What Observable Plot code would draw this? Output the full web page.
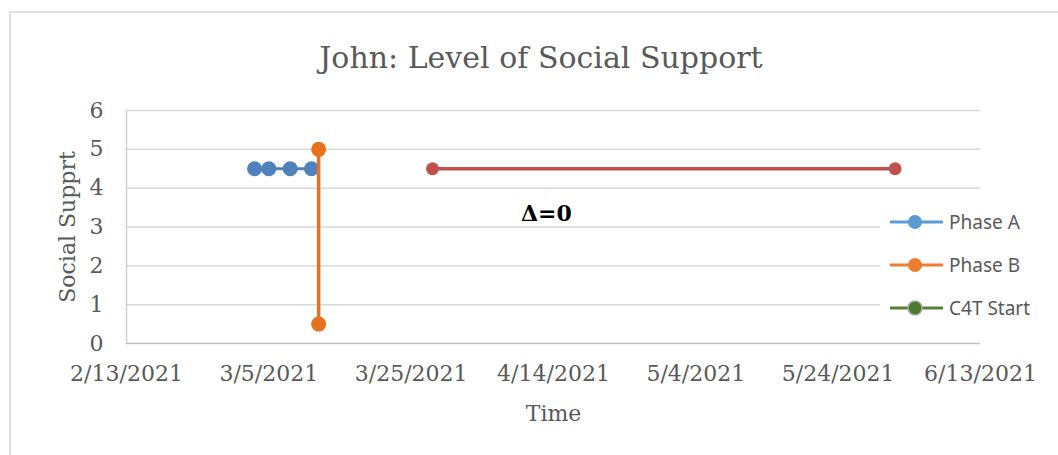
<!DOCTYPE html>
<html><head><meta charset="utf-8">
<script src="https://cdn.jsdelivr.net/npm/d3@7"></script>
<script src="https://cdn.jsdelivr.net/npm/@observablehq/plot@0.6"></script>
<style>
body{margin:0;background:#fff;}
#wrap{position:relative;width:1058px;height:455px;overflow:hidden;font-family:"DejaVu Serif",serif;background:#fff;}
#frame{position:absolute;left:9px;top:11px;width:1100px;height:500px;border:2px solid #e0e0e0;box-sizing:border-box;}
#title{position:absolute;left:0;width:1082px;top:43px;line-height:30px;text-align:center;font-size:30px;color:#595959;}
#chart{position:absolute;left:0;top:90px;}
#legend{position:absolute;left:880px;top:200px;}
</style>
</head><body>
<div id="wrap">
  <div id="frame"></div>
  <div id="title">John: Level of Social Support</div>
  <div id="chart"></div>
  <div id="legend"></div>
</div>
<script>
// ---- data ----
const tickDates = ["2021-02-13","2021-03-05","2021-03-25","2021-04-14","2021-05-04","2021-05-24","2021-06-13"];
const yTicks = [0,1,2,3,4,5,6];
const phaseADates = ["2021-03-03","2021-03-05","2021-03-08","2021-03-11"];
const phaseAValues = [4.5,4.5,4.5,4.5];
const phaseBDates = ["2021-03-12","2021-03-12"];
const phaseBValues = [5,0.5];
const phaseCDates = ["2021-03-28","2021-06-01"];
const phaseCValues = [4.5,4.5];
const legendNames = ["Phase A","Phase B","C4T Start"];
const annotationText = "Δ=0";
const annotationDate = "2021-04-13";
const annotationValue = 3.33;

const parse = d3.utcParse("%Y-%m-%d");
const ticks = tickDates.map(parse);
const rows = (ds, vs) => ds.map((d,i)=>({date:parse(d), value:vs[i]}));
const A = rows(phaseADates, phaseAValues);
const B = rows(phaseBDates, phaseBValues);
const C = rows(phaseCDates, phaseCValues);
const fmt = d => `${d.getUTCMonth()+1}/${d.getUTCDate()}/${d.getUTCFullYear()}`;

const blue = "#4f81bd", orange = "#e8711d", red = "#c0504d";

const plot = Plot.plot({
  width: 1058,
  height: 365,
  marginLeft: 126,
  marginRight: 78,
  marginTop: 20,
  marginBottom: 112,
  style: {fontFamily: "DejaVu Serif", fontSize: "22px", color: "#595959", background: "transparent"},
  x: {type: "utc", domain: [ticks[0], ticks[ticks.length-1]]},
  y: {domain: [0, 6]},
  marks: [
    Plot.ruleY(yTicks.slice(1), {stroke: "#d9d9d9", strokeWidth: 1.5}),
    Plot.ruleY([0], {stroke: "#bfbfbf", strokeWidth: 1.5}),
    Plot.ruleX([ticks[0]], {stroke: "#d0d0d0", strokeWidth: 1.5}),
    Plot.axisX({ticks: ticks, tickFormat: fmt, tickSize: 0, tickPadding: 22, label: "Time", labelAnchor: "center", labelOffset: 77, labelArrow: "none", fill: "#595959"}),
    Plot.axisY({ticks: yTicks, tickFormat: d => String(d), tickSize: 0, tickPadding: 23, label: "Social Supprt", labelAnchor: "center", labelOffset: 67, labelArrow: "none", fill: "#595959"}),
    Plot.line(A, {x: "date", y: "value", stroke: blue, strokeWidth: 3}),
    Plot.dot(A, {x: "date", y: "value", fill: blue, r: 7.5}),
    Plot.line(B, {x: "date", y: "value", stroke: orange, strokeWidth: 3.5}),
    Plot.dot(B, {x: "date", y: "value", fill: orange, r: 7.5}),
    Plot.line(C, {x: "date", y: "value", stroke: red, strokeWidth: 3.5}),
    Plot.dot(C, {x: "date", y: "value", fill: red, r: 6.5}),
    Plot.text([annotationText], {x: parse(annotationDate), y: annotationValue, text: d => d, fontWeight: "bold", fontSize: 22, fill: "#000"})
  ]
});
document.getElementById("chart").append(plot);

// legend
const legendColors = [
  {line: "#5b9bd5", fill: "#5b9bd5", stroke: "none"},
  {line: "#ed7d31", fill: "#ed7d31", stroke: "none"},
  {line: "#548235", fill: "#4e7a2c", stroke: "#a6a6a6"}
];
const ns = "http://www.w3.org/2000/svg";
const lg = d3.create("svg").attr("width", 170).attr("height", 130).attr("xmlns", ns);
lg.append("rect").attr("width", 170).attr("height", 130).attr("fill", "#fff");
legendNames.forEach((name, i) => {
  const y = 22 + i * 43;
  const c = legendColors[i];
  lg.append("line").attr("x1", 10).attr("x2", 63).attr("y1", y).attr("y2", y).attr("stroke", c.line).attr("stroke-width", 3);
  lg.append("circle").attr("cx", 35).attr("cy", y).attr("r", 7).attr("fill", c.fill).attr("stroke", c.stroke).attr("stroke-width", 1.5);
  lg.append("text").attr("x", 69).attr("y", y).attr("dy", "0.35em").attr("font-family", "Noto Sans").attr("font-size", 19).attr("fill", "#595959").text(name);
});
document.getElementById("legend").append(lg.node());
</script>
</body></html>
